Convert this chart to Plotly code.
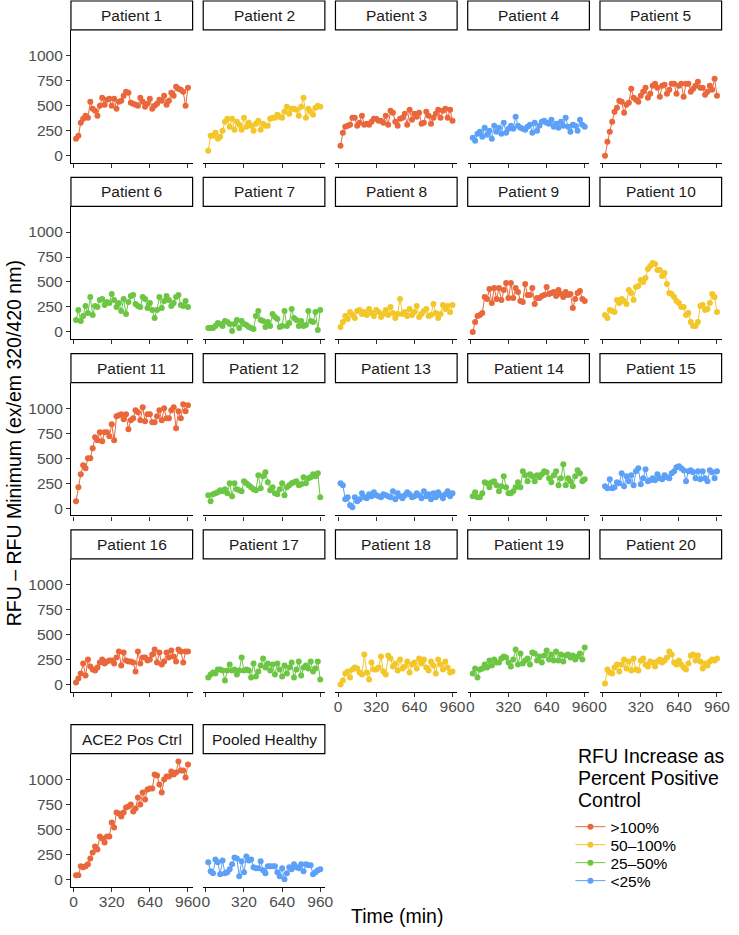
import plotly.graph_objects as go

# ---------------- data ----------------
time_min = [20, 40, 60, 80, 100, 120, 140, 160, 180, 200, 220, 240,
            260, 280, 300, 320, 340, 360, 380, 400, 420, 440, 460, 480,
            500, 520, 540, 560, 580, 600, 620, 640, 660, 680, 700, 720,
            740, 760, 780, 800, 820, 840, 860, 880, 900, 920, 940, 960]

panel_names = ["Patient 1", "Patient 2", "Patient 3", "Patient 4", "Patient 5",
               "Patient 6", "Patient 7", "Patient 8", "Patient 9", "Patient 10",
               "Patient 11", "Patient 12", "Patient 13", "Patient 14", "Patient 15",
               "Patient 16", "Patient 17", "Patient 18", "Patient 19", "Patient 20",
               "ACE2 Pos Ctrl", "Pooled Healthy"]

panel_groups = [">100%", "50–100%", ">100%", "<25%", ">100%",
                "25–50%", "25–50%", "50–100%", ">100%", "50–100%",
                ">100%", "25–50%", "<25%", "25–50%", "<25%",
                ">100%", "25–50%", "50–100%", "25–50%", "50–100%",
                ">100%", "<25%"]

group_order = [">100%", "50–100%", "25–50%", "<25%"]
legend_title_lines = ["RFU Increase as", "Percent Positive", "Control"]

p1 = [170, 200, 330, 370, 400, 380, 540, 470, 450, 400, 500, 580,
      510, 560, 570, 500, 570, 470, 540, 550, 600, 640, 630, 530,
      520, 510, 500, 580, 540, 490, 520, 570, 470, 500, 520, 560,
      550, 600, 510, 550, 630, 600, 690, 670, 660, 640, 500, 680]
p2 = [50, 200, 200, 230, 170, 190, 250, 340, 370, 290, 370, 260,
      340, 310, 260, 380, 290, 330, 300, 250, 320, 350, 260, 320,
      300, 300, 370, 380, 380, 410, 390, 380, 440, 490, 420, 470,
      470, 460, 400, 490, 580, 380, 470, 440, 410, 480, 500, 490]
p3 = [100, 230, 290, 300, 310, 380, 380, 300, 330, 400, 310, 320,
      310, 340, 370, 370, 350, 350, 330, 400, 310, 450, 430, 340,
      300, 370, 380, 420, 310, 460, 360, 420, 390, 430, 320, 330,
      440, 400, 320, 380, 420, 460, 380, 450, 470, 380, 460, 350]
p4 = [180, 150, 220, 240, 190, 280, 210, 250, 170, 300, 240, 280,
      220, 330, 230, 270, 300, 270, 390, 300, 280, 270, 260, 290,
      310, 230, 330, 250, 300, 340, 350, 330, 320, 360, 290, 320,
      280, 340, 300, 380, 290, 240, 310, 300, 250, 360, 310, 290]
p5 = [0, 140, 240, 340, 440, 480, 550, 540, 430, 510, 530, 670,
      580, 560, 540, 600, 640, 680, 580, 620, 700, 720, 680, 590,
      700, 710, 620, 660, 720, 720, 620, 700, 720, 590, 720, 720,
      640, 670, 700, 740, 680, 680, 610, 640, 700, 660, 770, 600]
p6 = [120, 220, 110, 160, 260, 190, 350, 170, 260, 250, 320, 330,
      270, 300, 290, 380, 320, 250, 290, 210, 330, 180, 300, 360,
      370, 280, 260, 250, 350, 330, 240, 290, 220, 140, 220, 350,
      240, 310, 360, 320, 260, 290, 350, 370, 270, 260, 310, 250]
p7 = [40, 40, 40, 60, 90, 80, 60, 110, 100, 80, 10, 80,
      120, 40, 110, 80, 70, 50, 40, 30, 160, 210, 120, 110,
      50, 100, 60, 180, 150, 130, 50, 60, 210, 60, 90, 230,
      140, 120, 60, 110, 60, 70, 210, 110, 100, 200, 20, 220]
p8 = [50, 100, 160, 130, 200, 170, 140, 210, 220, 180, 200, 170,
      230, 190, 160, 220, 200, 150, 180, 220, 170, 250, 190, 140,
      180, 330, 180, 200, 160, 230, 170, 200, 260, 150, 180, 210,
      230, 160, 170, 280, 190, 140, 180, 270, 230, 260, 200, 270]
p9 = [0, 100, 160, 170, 190, 350, 330, 430, 290, 440, 330, 440,
      320, 420, 490, 340, 490, 340, 440, 400, 310, 300, 480, 370,
      370, 440, 280, 340, 340, 360, 370, 450, 380, 390, 400, 360,
      420, 380, 350, 400, 370, 380, 240, 330, 390, 410, 330, 310]
p10 = [170, 140, 220, 210, 200, 320, 290, 330, 310, 280, 420, 390,
       320, 450, 460, 520, 500, 540, 630, 660, 690, 680, 620, 620,
       560, 590, 480, 390, 380, 350, 310, 290, 250, 250, 170, 190,
       100, 60, 60, 100, 260, 270, 220, 230, 290, 380, 350, 200]
p11 = [70, 210, 340, 430, 400, 500, 500, 600, 710, 680, 760, 670,
       760, 760, 720, 840, 680, 920, 930, 940, 890, 940, 790, 880,
       900, 980, 960, 880, 1010, 870, 940, 940, 860, 860, 920, 980,
       880, 1000, 900, 900, 980, 1010, 800, 970, 900, 1040, 970, 1030]
p12 = [130, 70, 140, 150, 160, 180, 170, 190, 150, 250, 120, 250,
       190, 180, 170, 270, 250, 230, 210, 190, 180, 330, 200, 320,
       360, 260, 180, 210, 150, 140, 190, 250, 130, 210, 230, 250,
       260, 270, 230, 240, 310, 250, 300, 310, 340, 320, 350, 110]
p13 = [250, 230, 90, 110, 30, 10, 110, 70, 90, 150, 110, 100,
       140, 120, 160, 130, 120, 110, 140, 130, 120, 110, 170, 90,
       150, 120, 100, 130, 160, 140, 110, 120, 150, 130, 100, 170,
       120, 140, 90, 150, 110, 160, 130, 100, 140, 170, 120, 150]
p14 = [120, 160, 110, 110, 150, 260, 250, 210, 260, 270, 230, 170,
       220, 320, 210, 150, 150, 170, 210, 260, 210, 370, 330, 270,
       340, 320, 270, 330, 310, 340, 370, 360, 300, 260, 330, 370,
       230, 300, 440, 230, 300, 270, 220, 320, 380, 350, 270, 290]
p15 = [220, 200, 290, 200, 210, 260, 250, 350, 220, 320, 270, 330,
       230, 370, 400, 240, 300, 390, 270, 280, 300, 280, 340, 300,
       290, 330, 310, 300, 350, 370, 410, 420, 400, 380, 270, 370,
       380, 360, 300, 370, 290, 370, 300, 270, 380, 360, 300, 370]
p16 = [20, 60, 110, 210, 90, 250, 180, 150, 140, 170, 220, 250,
       210, 230, 240, 240, 210, 270, 330, 190, 320, 240, 230, 230,
       220, 130, 330, 210, 270, 270, 240, 250, 300, 350, 220, 320,
       200, 230, 320, 270, 340, 280, 230, 350, 330, 220, 330, 330]
p17 = [70, 100, 120, 110, 150, 150, 140, 40, 140, 200, 140, 150,
       100, 140, 270, 140, 150, 140, 70, 210, 80, 130, 190, 260,
       170, 210, 140, 200, 100, 210, 150, 80, 190, 110, 170, 220,
       70, 150, 230, 90, 170, 190, 160, 230, 130, 160, 230, 50]
p18 = [0, 40, 110, 130, 70, 150, 170, 160, 120, 100, 300, 120,
       50, 220, 150, 150, 170, 280, 130, 100, 290, 260, 180, 210,
       140, 250, 160, 180, 230, 120, 200, 220, 160, 260, 210, 250,
       170, 140, 230, 190, 110, 250, 200, 150, 230, 170, 120, 130]
p19 = [110, 160, 70, 150, 160, 200, 170, 240, 190, 250, 220, 220,
       260, 280, 270, 220, 180, 250, 350, 200, 310, 210, 240, 260,
       200, 320, 310, 240, 280, 220, 290, 340, 250, 300, 240, 330,
       240, 300, 230, 290, 300, 270, 290, 250, 280, 310, 250, 370]
p20 = [10, 150, 120, 110, 170, 200, 130, 200, 250, 160, 230, 140,
       260, 150, 140, 240, 260, 200, 180, 230, 220, 180, 230, 250,
       220, 240, 270, 330, 300, 220, 200, 240, 200, 170, 150, 210,
       290, 300, 240, 290, 230, 160, 210, 190, 230, 250, 240, 260]
ace2_pos = [40, 40, 130, 120, 130, 150, 210, 270, 330, 300, 430, 410,
            370, 430, 430, 570, 520, 670, 660, 630, 670, 720, 730, 750,
            680, 710, 820, 750, 870, 800, 900, 910, 910, 1050, 1040, 950,
            870, 1000, 1030, 1030, 1080, 1050, 1070, 1180, 1090, 1090, 1020, 1150]
pooled_healthy = [170, 80, 60, 200, 170, 50, 190, 60, 70, 100, 150, 220,
                  210, 30, 180, 70, 230, 190, 200, 120, 110, 110, 180, 90,
                  60, 130, 130, 130, 130, 70, 30, 110, 0, 60, 120, 100,
                  150, 120, 110, 150, 80, 150, 140, 140, 50, 70, 90, 100]

panel_values = [p1, p2, p3, p4, p5, p6, p7, p8, p9, p10, p11, p12, p13, p14,
                p15, p16, p17, p18, p19, p20, ace2_pos, pooled_healthy]

x_ticks = [0, 320, 640, 960]
y_ticks = [0, 250, 500, 750, 1000]

# ---------------- style ----------------
W, H = 739, 935
FONT = "Liberation Sans, Arial, Helvetica, sans-serif"
colors = {">100%": "#E9673A", "50–100%": "#F3C62A", "25–50%": "#6CC644", "<25%": "#5CA0F8"}

col_left = [70, 204.25, 338.5, 472.75, 607]
panel_w = 123.5
row_top = [30, 206.5, 383, 559.5, 754.5]
panel_h = 133
strip_h = 29

legend_names = ["legend", "legend2", "legend3", "legend4"]
legend_item_y = [828, 846, 864, 882]
title_line_y = [757, 779, 801]

fig = go.Figure()
shown = set()
layout_axes = {}
shapes = []
annotations = []

n_panels = len(panel_names)
for k in range(n_panels):
    r, c = divmod(k, 5)
    idx = k + 1
    xa = "x" if idx == 1 else f"x{idx}"
    ya = "y" if idx == 1 else f"y{idx}"
    g = panel_groups[k]
    gi = group_order.index(g)
    show = g not in shown
    shown.add(g)
    fig.add_trace(go.Scatter(
        x=time_min, y=panel_values[k], xaxis=xa, yaxis=ya,
        mode="lines+markers",
        line=dict(color=colors[g], width=1),
        marker=dict(color=colors[g], size=6),
        name=g, legendgroup=g, showlegend=show, legend=legend_names[gi],
    ))
    x0 = col_left[c]
    x1 = x0 + panel_w
    y0 = row_top[r]
    y1 = y0 + panel_h
    x_labels = (k + 5) >= n_panels
    first_col = (c == 0)
    xname = "xaxis" if idx == 1 else f"xaxis{idx}"
    yname = "yaxis" if idx == 1 else f"yaxis{idx}"
    layout_axes[xname] = dict(
        domain=[x0 / W, x1 / W], anchor=ya, range=[-22.4, 999],
        tickvals=x_ticks, ticks="outside", ticklen=4, tickwidth=1.1, tickcolor="#333333",
        showline=True, linecolor="black", linewidth=1.2,
        showgrid=False, zeroline=False, showticklabels=x_labels,
        ticklabelstandoff=-3,
        tickfont=dict(family=FONT, size=15.5, color="#4D4D4D"),
    )
    layout_axes[yname] = dict(
        domain=[1 - y1 / H, 1 - y0 / H], anchor=xa, range=[-72, 1258],
        tickvals=y_ticks, ticks="outside" if first_col else "", ticklen=4, tickwidth=1.1,
        tickcolor="#333333", showline=first_col, linecolor="black", linewidth=1.2,
        showgrid=False, zeroline=False, showticklabels=first_col,
        tickfont=dict(family=FONT, size=15.5, color="#4D4D4D"),
    )
    shapes.append(dict(type="rect", xref="paper", yref="paper",
                       x0=x0 / W, x1=x1 / W, y0=1 - y0 / H, y1=1 - (y0 - strip_h) / H,
                       line=dict(color="black", width=1.2), fillcolor="white", layer="above"))
    annotations.append(dict(text=panel_names[k], xref="paper", yref="paper",
                            x=(x0 + x1) / 2 / W, y=1 - (y0 - strip_h / 2) / H,
                            showarrow=False, xanchor="center", yanchor="middle",
                            font=dict(family=FONT, size=15.5, color="#1A1A1A")))

annotations.append(dict(text="Time (min)", xref="paper", yref="paper",
                        x=400.5 / W, y=1 - 917 / H, showarrow=False,
                        xanchor="center", yanchor="middle",
                        font=dict(family=FONT, size=19.5, color="black")))
annotations.append(dict(text="RFU – RFU Minimum (ex/em 320/420 nm)", xref="paper", yref="paper",
                        x=12 / W, y=1 - 444 / H, showarrow=False, textangle=-90,
                        xanchor="center", yanchor="middle",
                        font=dict(family=FONT, size=19.5, color="black")))
for line_text, ly in zip(legend_title_lines, title_line_y):
    annotations.append(dict(text=line_text, xref="paper", yref="paper",
                            x=583 / W, y=1 - ly / H, showarrow=False,
                            xanchor="left", yanchor="middle",
                            font=dict(family=FONT, size=19.5, color="black")))

legends = {}
for name, ly in zip(legend_names, legend_item_y):
    legends[name] = dict(x=577 / W, y=1 - ly / H, xanchor="left", yanchor="middle",
                         font=dict(family=FONT, size=15.5, color="black"),
                         bgcolor="rgba(0,0,0,0)", itemwidth=30)

fig.update_layout(
    width=W, height=H, autosize=False,
    margin=dict(l=0, r=0, t=0, b=0),
    paper_bgcolor="white", plot_bgcolor="white",
    shapes=shapes, annotations=annotations,
    showlegend=True,
    **legends,
    **layout_axes,
)

fig.write_html("out.html")
